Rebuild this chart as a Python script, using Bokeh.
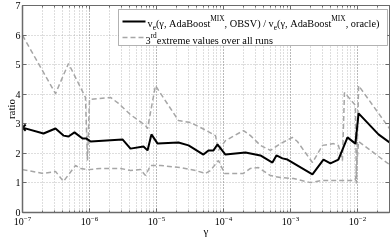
from bokeh.plotting import figure
from bokeh.models import (LinearAxis, LogAxis, Range1d, BoxAnnotation, Label, Arrow,
                          FixedTicker, CustomJSTickFormatter, LogTicker)
from bokeh.embed import file_html
from bokeh.resources import INLINE

FONT = "Liberation Serif"

# ---- data ----
gamma_ratio = [1.00e-7, 2.06e-7, 3.11e-7, 4.09e-7, 4.86e-7, 5.97e-7, 7.87e-7, 9.02e-7,
               1.04e-6, 3.11e-6, 4.09e-6, 6.40e-6, 7.35e-6, 8.41e-6, 1.04e-5, 2.13e-5,
               3.01e-5, 5.02e-5, 5.97e-5, 7.10e-5, 8.13e-5, 1.07e-4, 2.13e-4, 3.56e-4,
               5.38e-4, 6.18e-4, 7.60e-4, 9.02e-4, 2.13e-3, 3.11e-3, 3.95e-3, 5.20e-3,
               7.10e-3, 9.33e-3, 1.04e-2, 2.06e-2, 3.01e-2]
ratio = [2.87, 2.67, 2.84, 2.60, 2.57, 2.71, 2.50, 2.50,
         2.40, 2.47, 2.16, 2.23, 2.10, 2.64, 2.33, 2.37,
         2.27, 1.96, 2.10, 2.10, 2.30, 1.96, 2.03, 1.93,
         1.69, 1.93, 1.83, 1.79, 1.29, 1.79, 1.66, 1.79,
         2.54, 2.33, 3.35, 2.64, 2.37]

gamma_hi = [1.00e-7, 3.11e-7, 4.86e-7, 8.71e-7, 9.33e-7, 1.00e-6, 2.06e-6, 2.71e-6,
            4.09e-6, 6.86e-6, 7.35e-6, 9.66e-6, 2.13e-5, 3.21e-5, 4.86e-5, 7.60e-5,
            8.42e-5, 1.07e-4, 1.99e-4, 2.53e-4, 3.56e-4, 5.02e-4, 7.10e-4, 1.07e-3,
            1.27e-3, 2.13e-3, 3.01e-3, 4.38e-3, 5.20e-3, 5.97e-3, 6.40e-3, 9.33e-3,
            9.66e-3, 1.04e-2, 3.01e-2]
hi_3rd = [5.99, 4.02, 5.04, 3.89, 1.76, 3.82, 3.89, 3.69,
          3.31, 2.94, 2.84, 4.29, 3.11, 3.04, 2.84, 2.60,
          2.10, 2.43, 2.77, 2.60, 2.27, 2.10, 2.33, 2.54,
          2.40, 1.69, 2.27, 2.33, 2.27, 1.76, 4.06, 3.62,
          0.98, 4.29, 2.84]

gamma_lo = [1.00e-7, 2.06e-7, 3.11e-7, 4.09e-7, 6.18e-7, 7.35e-7, 9.66e-7, 1.46e-6,
            2.91e-6, 4.09e-6, 5.78e-6, 6.86e-6, 8.13e-6, 1.15e-5, 2.28e-5, 3.84e-5,
            5.38e-5, 6.40e-5, 8.42e-5, 1.04e-4, 1.99e-4, 2.53e-4, 3.31e-4, 5.02e-4,
            7.10e-4, 1.11e-3, 2.00e-3, 2.91e-3, 5.78e-3, 9.33e-3, 1.04e-2, 3.01e-2]
lo_3rd = [1.45, 1.32, 1.39, 1.05, 1.59, 1.49, 1.45, 1.49,
          1.49, 1.42, 1.45, 1.25, 1.59, 1.59, 1.52, 1.42,
          1.32, 1.42, 1.76, 1.32, 1.32, 1.49, 1.52, 1.25,
          1.18, 1.15, 1.01, 1.08, 1.08, 1.08, 2.40, 1.62]

y_ticks = [0, 1, 2, 3, 4, 5, 6, 7]
x_label = "γ"
y_label = "ratio"
legend_line1 = [("v", "n"), ("e", "sub"), ("(γ, AdaBoost", "n"), ("MIX", "sup"),
                (", OBSV) / v", "n"), ("e", "sub"), ("(γ, AdaBoost", "n"), ("MIX", "sup"),
                (", oracle)", "n")]
legend_line2 = [("3", "n"), ("rd", "sup"), (" extreme values over all runs", "n")]

AXIS_COL = "#6a6a6a"
GRID_COL = "#9a9a9a"
DASH_COL = "#a6a6a6"

p = figure(width=390, height=242, x_axis_type="log",
           x_range=Range1d(1e-7, 0.0301), y_range=Range1d(0, 7),
           output_backend="svg", toolbar_location=None,
           min_border_left=22, min_border_right=1, min_border_top=5, min_border_bottom=30)
p.styles = {"position": "fixed", "left": "0px", "top": "0px"}
p.background_fill_color = "white"
p.border_fill_color = "white"
p.outline_line_color = AXIS_COL
p.outline_line_width = 1

# axes
xa = p.xaxis[0]
ya = p.yaxis[0]
ya.ticker = FixedTicker(ticks=y_ticks)
for ax in (xa, ya):
    ax.axis_line_color = AXIS_COL
    ax.axis_line_width = 1.5
    ax.major_tick_line_color = AXIS_COL
    ax.minor_tick_line_color = AXIS_COL
    ax.major_tick_out = 0
    ax.major_tick_in = 4
    ax.minor_tick_out = 0
    ax.minor_tick_in = 2
    ax.major_label_text_font = FONT
    ax.major_label_text_font_size = "10px"
    ax.major_label_text_color = "black"
    ax.axis_label_text_font = FONT
    ax.axis_label_text_font_size = "11px"
    ax.axis_label_text_font_style = "normal"
    ax.axis_label_text_color = "black"
ya.minor_tick_line_color = None
ya.major_label_standoff = 2
ya.axis_label_standoff = -4
xa.major_label_standoff = 3
xa.axis_label_standoff = -3
xa.axis_label = x_label
ya.axis_label = y_label

blank = CustomJSTickFormatter(code="return ''")
top = LogAxis(ticker=LogTicker(num_minor_ticks=10), formatter=blank,
              major_label_standoff=0, major_tick_out=0, major_tick_in=4,
              minor_tick_out=0, minor_tick_in=2, axis_line_color=AXIS_COL,
              major_tick_line_color=AXIS_COL, minor_tick_line_color=AXIS_COL)
right = LinearAxis(ticker=FixedTicker(ticks=y_ticks), formatter=blank,
                   major_label_standoff=0, major_tick_out=0, major_tick_in=4,
                   minor_tick_out=0, minor_tick_in=0, axis_line_color=AXIS_COL,
                   major_tick_line_color=AXIS_COL, minor_tick_line_color=None)
p.add_layout(top, "above")
p.add_layout(right, "right")

# grids
for g in (p.xgrid[0], p.ygrid[0]):
    g.grid_line_color = GRID_COL
    g.grid_line_dash = "1 2"
    g.grid_line_width = 1
    g.grid_line_alpha = 0.65
p.ygrid[0].ticker = FixedTicker(ticks=y_ticks)
p.xgrid[0].minor_grid_line_color = GRID_COL
p.xgrid[0].minor_grid_line_dash = "1 2"
p.xgrid[0].minor_grid_line_alpha = 0.65

# data
p.line(gamma_hi, hi_3rd, line_color=DASH_COL, line_width=1.5, line_dash="5 3")
p.line(gamma_lo, lo_3rd, line_color=DASH_COL, line_width=1.5, line_dash="5 3")
p.line(gamma_ratio, ratio, line_color="black", line_width=2)
p.scatter(gamma_ratio[:1], ratio[:1], marker="x", size=9, line_color="black", line_width=2)

# legend (screen units relative to the frame: x from left, y from bottom)
p.add_layout(BoxAnnotation(left=96, right=365, top=203, bottom=167,
                           left_units="screen", right_units="screen",
                           top_units="screen", bottom_units="screen",
                           fill_color="white", fill_alpha=1.0,
                           line_color="black", line_width=1, level="overlay"))
p.add_layout(Arrow(x_start=100, y_start=191, x_end=123, y_end=191,
                   start_units="screen", end_units="screen", end=None, start=None,
                   line_color="black", line_width=2, level="overlay"))
p.add_layout(Arrow(x_start=100, y_start=175, x_end=122, y_end=175,
                   start_units="screen", end_units="screen", end=None, start=None,
                   line_color=DASH_COL, line_width=1.5, line_dash="5 3", level="overlay"))

W = {' ': 250, '(': 333, ')': 333, ',': 250, '/': 278, 'A': 722, 'B': 667, 'I': 333,
     'M': 889, 'O': 722, 'S': 556, 'V': 722, 'X': 722, 'a': 444, 'c': 444, 'd': 500,
     'e': 444, 'l': 278, 'n': 500, 'o': 500, 'r': 333, 's': 389, 't': 278, 'u': 500,
     'v': 500, 'x': 500, '3': 500, 'γ': 430, 'm': 778, 'i': 278}


def rich(pieces, x0, base, size):
    x = x0
    for txt, kind in pieces:
        fs = size if kind == "n" else size * 0.72
        dy = 0 if kind == "n" else (-3 if kind == "sub" else 5)
        p.add_layout(Label(x=x, y=base + dy, x_units="screen", y_units="screen",
                           text=txt, text_font=FONT, text_font_size=f"{fs:.2f}px",
                           text_baseline="alphabetic", text_color="black", level="overlay"))
        x += sum(W.get(c, 500) for c in txt) * fs / 1000.0


rich(legend_line1, 125, 189, 10.3)
rich(legend_line2, 123, 172, 10.3)

open("out.html", "w").write(file_html(p, INLINE))
